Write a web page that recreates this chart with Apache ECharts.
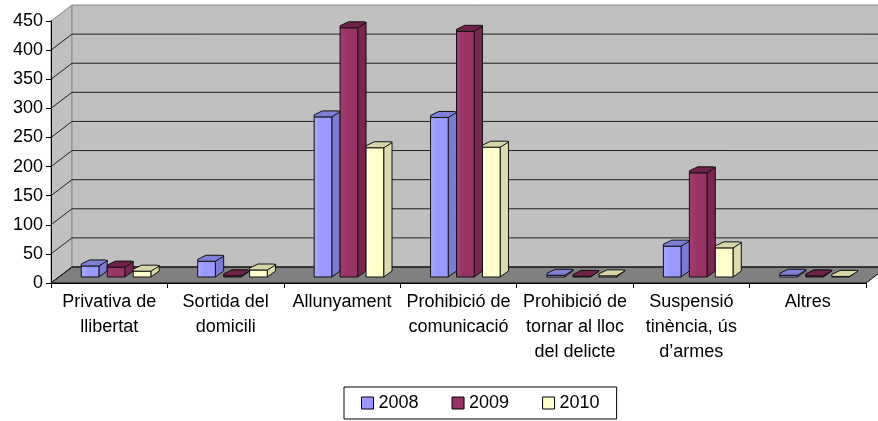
<!DOCTYPE html>
<html>
<head>
<meta charset="utf-8">
<script src="https://cdn.jsdelivr.net/npm/echarts@6/dist/echarts.min.js"></script>
<style>
  html, body { margin: 0; padding: 0; background: #fff; }
  #chart { width: 878px; height: 421px; }
</style>
</head>
<body>
<div id="chart"></div>
<script>
const categories = [
  "Privativa de\nllibertat",
  "Sortida del\ndomicili",
  "Allunyament",
  "Prohibició de\ncomunicació",
  "Prohibició de\ntornar al lloc\ndel delicte",
  "Suspensió\ntinència, ús\nd’armes",
  "Altres"
];
const years = ["2008", "2009", "2010"];
const v2008 = [19, 27, 275, 274, 3, 53, 3];
const v2009 = [17, 2, 428, 422, 1, 179, 2];
const v2010 = [10, 12, 222, 223, 2, 50, 1];
const yTicks = [0, 50, 100, 150, 200, 250, 300, 350, 400, 450];

(function () {
  "use strict";
  const FONT = "Liberation Sans, Arial, sans-serif";
  const DX = 21, DY = -16;          // depth of the 3D box
  const SX = 11, SY = -6;           // bars stand mid-depth
  const RISE = 6;                   // cap height
  const PAL = [
    { front: "#9999FF", light: "#ABABFF", side: "#7B7BD6", cap: "#7F7FD8" },
    { front: "#993366", light: "#A53D72", side: "#7A2650", cap: "#6F2147" },
    { front: "#FFFFCC", light: "#FFFFDD", side: "#DCDCAA", cap: "#D6D6A6" }
  ];
  const vals = [v2008, v2009, v2010];

  function walls(params, api) {
    const cs = params.coordSys;
    const L = cs.x, R = cs.x + cs.width;
    const y0 = api.coord([0, yTicks[0]])[1];
    const yT = api.coord([0, yTicks[yTicks.length - 1]])[1];
    const edge = { stroke: "#8a8a8a", lineWidth: 1 };
    const kids = [
      { type: "polygon", shape: { points: [[L, y0], [L, yT], [L + DX, yT + DY], [L + DX, y0 + DY]] }, style: Object.assign({ fill: "#C0C0C0" }, edge) },
      { type: "rect", shape: { x: L + DX, y: yT + DY, width: R - L, height: y0 - yT }, style: Object.assign({ fill: "#C0C0C0" }, edge) },
      { type: "polygon", shape: { points: [[L, y0], [R, y0], [R + DX, y0 + DY], [L + DX, y0 + DY]] }, style: { fill: "#808080", stroke: "#000", lineWidth: 1 } }
    ];
    yTicks.slice(0, -1).forEach((t) => {
      const y = api.coord([0, t])[1];
      kids.push({ type: "polyline", shape: { points: [[L, y], [L + DX, y + DY], [R + DX, y + DY]] }, style: { stroke: "#222", lineWidth: 1, fill: null } });
    });
    return { type: "group", children: kids };
  }

  function bar(si) {
    const c = PAL[si];
    return function (params, api) {
      const ci = api.value(0), v = api.value(1);
      const base = api.coord([ci, 0]), top = api.coord([ci, v]);
      const pitch = api.size([1, 0])[0] * 0.223;
      const fw = pitch * 0.68, sw = pitch - fw;
      const x0 = base[0] + SX - 1.5 * pitch + si * pitch;
      const yb = base[1] + SY, yt = top[1] + SY;
      const line = { stroke: "#111", lineWidth: 1 };
      return {
        type: "group",
        children: [
          { type: "polygon", shape: { points: [[x0 + fw, yb], [x0 + pitch, yb - RISE], [x0 + pitch, yt - RISE], [x0 + fw, yt]] }, style: Object.assign({ fill: c.side }, line) },
          { type: "rect", shape: { x: x0, y: yt, width: fw, height: Math.max(yb - yt, 0) },
            style: Object.assign({ fill: new echarts.graphic.LinearGradient(0, 0, 1, 0, [{ offset: 0, color: c.light }, { offset: 0.4, color: c.front }, { offset: 1, color: c.front }]) }, line) },
          { type: "polygon", shape: { points: [[x0, yt], [x0 + fw, yt], [x0 + pitch, yt - RISE + 1], [x0 + pitch - 2, yt - RISE], [x0 + sw, yt - RISE], [x0, yt - 2]] }, style: Object.assign({ fill: c.cap }, line) }
        ]
      };
    };
  }

  const chart = echarts.init(document.getElementById("chart"), null, { renderer: "canvas" });
  chart.setOption({
    animation: false,
    backgroundColor: "#fff",
    textStyle: { fontFamily: FONT, color: "#000" },
    grid: { left: 51, right: 12, top: 21, bottom: 138, containLabel: false },
    legend: {
      left: 344, top: 387, orient: "horizontal",
      padding: [7, 17], itemGap: 33, itemWidth: 12, itemHeight: 12,
      borderColor: "#000", borderWidth: 1,
      textStyle: { fontFamily: FONT, fontSize: 18, color: "#000" },
      data: years.map((y, i) => ({ name: y, icon: "rect", itemStyle: { color: PAL[i].front, borderColor: "#000", borderWidth: 1 } }))
    },
    xAxis: {
      type: "category", data: categories, z: 5,
      axisLine: { lineStyle: { color: "#000", width: 1 } },
      axisTick: { show: true, length: 5, interval: 0, lineStyle: { color: "#000" } },
      axisLabel: { interval: 0, fontFamily: FONT, fontSize: 18, lineHeight: 25, color: "#000", margin: 7 },
      splitLine: { show: false }
    },
    yAxis: {
      type: "value", min: 0, max: 450, interval: 50, z: 5,
      axisLine: { show: true, lineStyle: { color: "#000", width: 1 } },
      axisTick: { show: true, length: 5, lineStyle: { color: "#000" } },
      axisLabel: { fontFamily: FONT, fontSize: 18, color: "#000", margin: 8 },
      splitLine: { show: false }
    },
    series: [
      { type: "custom", name: "walls", z: 1, silent: true, clip: false, renderItem: walls, data: [[0, 0]] }
    ].concat(years.map((y, i) => ({
      type: "custom", name: y, z: 3, clip: false,
      itemStyle: { color: PAL[i].front },
      encode: { x: 0, y: 1 },
      renderItem: bar(i),
      data: categories.map((_, ci) => [ci, vals[i][ci]])
    })))
  });
  window.addEventListener("resize", () => chart.resize());
})();
</script>
</body>
</html>
